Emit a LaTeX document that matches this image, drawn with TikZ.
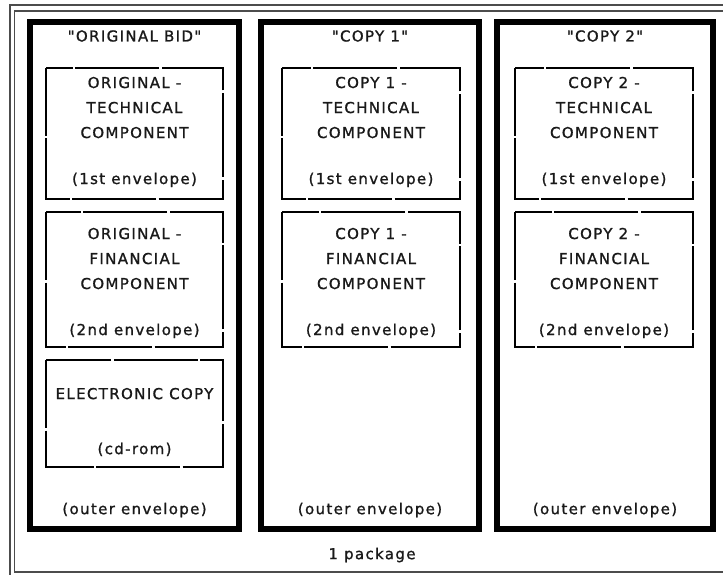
\documentclass[tikz,border=0pt]{standalone}
\usepackage{fontspec}
\setmainfont[LetterSpace=9, FakeBold=1.2, Ligatures=TeXOff]{DejaVu Sans}

\tikzset{
    outerenv/.style={line width=5.5pt, black},
    innerenv/.style={line width=1.3pt, black, dash pattern=on 84pt off 2.5pt, dash phase=16pt},
    frameline/.style={line width=1.2pt, black!70},
    lbl/.style={text=black!90, font=\fontsize{15}{25}\selectfont, align=center, inner sep=0pt},
}

\newcommand{\envbox}[7]{% name, left, right, top, bottom, text y, text
    \draw[innerenv] (#2,#4) rectangle (#3,#5);
    \node[lbl] (#1) at ({(#2+#3)/2},#6) {#7};
}

\begin{document}
\begin{tikzpicture}[x=1pt,y=-1pt]
        \useasboundingbox (0,0) rectangle (723,575);
        \clip (0,0) rectangle (723,575);

        % Package frame
        \draw[frameline] (10,5) rectangle (760,600);
        \draw[frameline] (14.5,11) rectangle (745,572);
        \node[lbl] (package) at (372,555) {1 package};

        % Outer envelopes
        \foreach \xl/\xr/\ttl/\nm in {30/239/{"ORIGINAL BID"}/orig, 261/479/{"COPY 1"}/copya, 497/713/{"COPY 2"}/copyb} {
            \draw[outerenv] (\xl,22) rectangle (\xr,529);
            \node[lbl] (\nm title) at ({(\xl+\xr)/2},36) {\ttl};
            \node[lbl] (\nm outer) at ({(\xl+\xr)/2},510) {(outer envelope)};
        }

        % Original bid
        \envbox{origtech}{46}{223}{68}{199}{132}{ORIGINAL -\\TECHNICAL\\COMPONENT\\[21pt](1st envelope)}
        \envbox{origfin}{46}{223}{212}{347}{283}{ORIGINAL -\\FINANCIAL\\COMPONENT\\[21pt](2nd envelope)}
        \envbox{origcd}{46}{223}{360}{467}{422}{ELECTRONIC COPY\\[30pt](cd-rom)}

        % Copy 1
        \envbox{copyatech}{282}{460}{68}{199}{132}{COPY 1 -\\TECHNICAL\\COMPONENT\\[21pt](1st envelope)}
        \envbox{copyafin}{282}{460}{212}{347}{283}{COPY 1 -\\FINANCIAL\\COMPONENT\\[21pt](2nd envelope)}

        % Copy 2
        \envbox{copybtech}{515}{693}{68}{199}{132}{COPY 2 -\\TECHNICAL\\COMPONENT\\[21pt](1st envelope)}
        \envbox{copybfin}{515}{693}{212}{347}{283}{COPY 2 -\\FINANCIAL\\COMPONENT\\[21pt](2nd envelope)}
    \end{tikzpicture}
\end{document}
